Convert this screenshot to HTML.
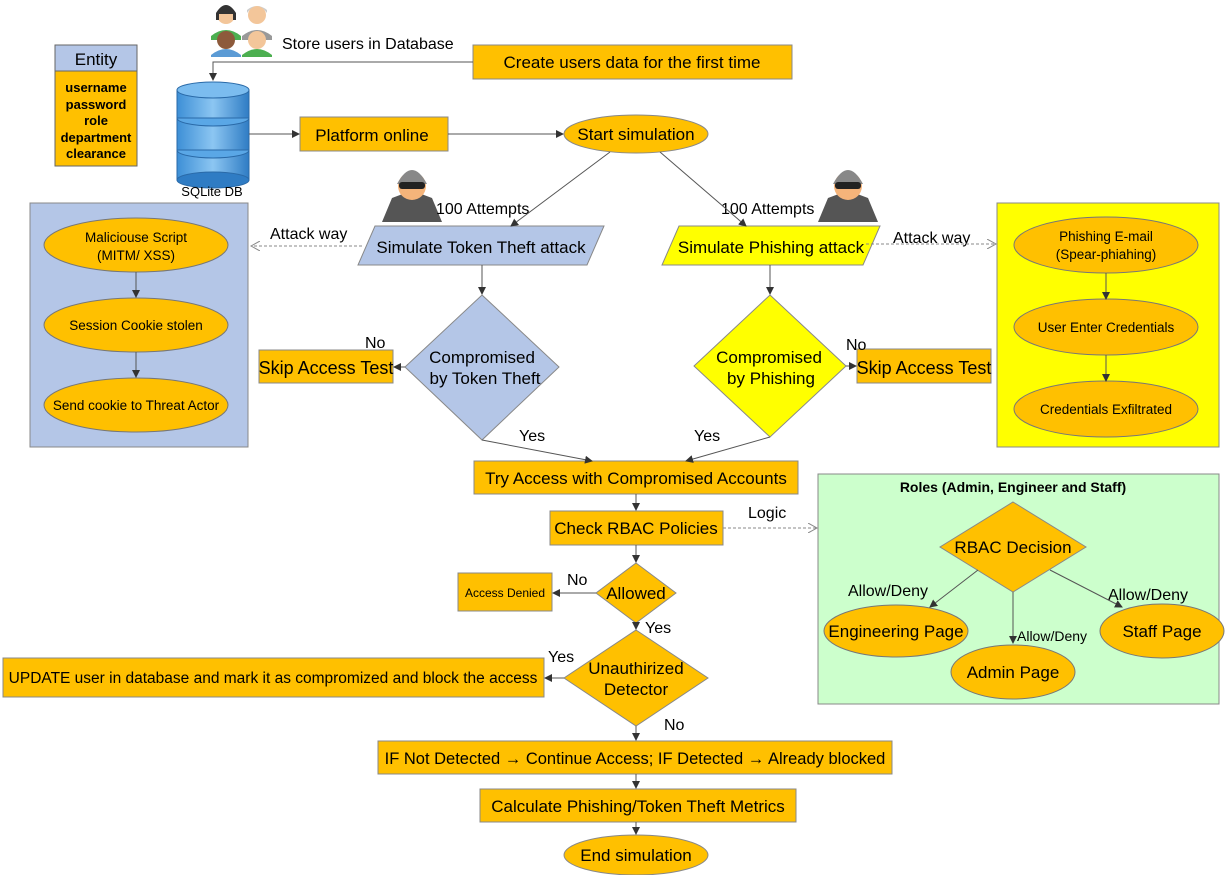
<!DOCTYPE html>
<html><head><meta charset="utf-8"><style>
html,body{margin:0;padding:0;background:#fff;}
svg{display:block;font-family:"Liberation Sans",sans-serif;}
</style></head><body>
<svg width="1225" height="875" viewBox="0 0 1225 875" xmlns="http://www.w3.org/2000/svg">
<defs>
<marker id="a" markerWidth="8" markerHeight="8" refX="7" refY="4" orient="auto" markerUnits="userSpaceOnUse"><path d="M0,0 L8,4 L0,8 z" fill="#333"/></marker>
<marker id="o" markerWidth="10" markerHeight="10" refX="9" refY="5" orient="auto" markerUnits="userSpaceOnUse"><path d="M0,0 L9,5 L0,10" fill="none" stroke="#888" stroke-width="1"/></marker>
<linearGradient id="db" x1="0" x2="1"><stop offset="0" stop-color="#3d8fd6"/><stop offset="0.5" stop-color="#8cc6f2"/><stop offset="1" stop-color="#2f7cc4"/></linearGradient>
</defs>

<!-- Entity -->
<rect x="55" y="45" width="82" height="26" fill="#b4c6e7" stroke="#666"/>
<rect x="55" y="71" width="82" height="95" fill="#ffc000" stroke="#666"/>
<text x="96" y="65" font-size="17" text-anchor="middle">Entity</text>
<g font-size="13" font-weight="bold" text-anchor="middle">
<text x="96" y="92">username</text><text x="96" y="109">password</text><text x="96" y="125">role</text><text x="96" y="142">department</text><text x="96" y="158">clearance</text>
</g>

<!-- DB -->
<g stroke="#2a6aa8" stroke-width="1">
<rect x="177" y="150" width="72" height="30" fill="url(#db)"/><ellipse cx="213" cy="180" rx="36" ry="8" fill="#2f7cc4"/><ellipse cx="213" cy="150" rx="36" ry="8" fill="#5aa7e6"/>
<rect x="177" y="118" width="72" height="32" fill="url(#db)"/><ellipse cx="213" cy="118" rx="36" ry="8" fill="#5aa7e6"/>
<rect x="177" y="90" width="72" height="28" fill="url(#db)"/><ellipse cx="213" cy="90" rx="36" ry="8" fill="#7bbcef"/>
</g>
<text x="212" y="196" font-size="13" text-anchor="middle">SQLite DB</text>

<!-- people -->
<g>
<circle cx="226" cy="15" r="9" fill="#f3c69a"/><path d="M216,13 q10,-16 20,0 v7 h-3 v-6 h-14 v6 h-3z" fill="#333"/><path d="M211,36 q15,-12 30,0 v4 h-30z" fill="#4caf50"/>
<circle cx="257" cy="15" r="9" fill="#f3c69a"/><path d="M247,13 q10,-14 20,0 v-3 q-10,-8 -20,0z" fill="#ccc"/><path d="M242,36 q15,-12 30,0 v4 h-30z" fill="#999"/>
<circle cx="226" cy="40" r="9" fill="#8d5a3b"/><path d="M211,57 v-2 q15,-12 30,0 v2z" fill="#5b9bd5"/>
<circle cx="257" cy="40" r="9" fill="#f3c69a"/><path d="M242,57 v-2 q15,-12 30,0 v2z" fill="#4caf50"/>
</g>
<text x="282" y="49" font-size="16">Store users in Database</text>

<!-- boxes top -->
<rect x="473" y="45" width="319" height="34" fill="#ffc000" stroke="#888"/>
<text x="632" y="68" font-size="17" text-anchor="middle">Create users data for the first time</text>
<rect x="300" y="117" width="148" height="34" fill="#ffc000" stroke="#888"/>
<text x="372" y="141" font-size="17" text-anchor="middle">Platform online</text>
<ellipse cx="636" cy="134" rx="72" ry="19" fill="#ffc000" stroke="#888"/>
<text x="636" y="140" font-size="17" text-anchor="middle">Start simulation</text>

<!-- hackers -->
<g>
<path d="M382,222 l10,-24 l16,-6 h8 l16,6 l10,24z" fill="#555"/><circle cx="412" cy="186" r="14" fill="#f5b47a"/><path d="M397,184 q15,-28 30,0z" fill="#888"/><rect x="399" y="182" width="26" height="7" rx="3" fill="#222"/>
</g>
<g transform="translate(436,0)">
<path d="M382,222 l10,-24 l16,-6 h8 l16,6 l10,24z" fill="#555"/><circle cx="412" cy="186" r="14" fill="#f5b47a"/><path d="M397,184 q15,-28 30,0z" fill="#888"/><rect x="399" y="182" width="26" height="7" rx="3" fill="#222"/>
</g>
<text x="436" y="214" font-size="16">100 Attempts</text>
<text x="721" y="214" font-size="16">100 Attempts</text>

<!-- parallelograms -->
<polygon points="375,226 604,226 587,265 358,265" fill="#b4c6e7" stroke="#888"/>
<text x="481" y="253" font-size="17" text-anchor="middle">Simulate Token Theft attack</text>
<polygon points="679,226 880,226 863,265 662,265" fill="#ffff00" stroke="#888"/>
<text x="771" y="253" font-size="17" text-anchor="middle">Simulate Phishing attack</text>
<text x="270" y="239" font-size="16">Attack way</text>
<text x="893" y="243" font-size="16">Attack way</text>

<!-- left blue group -->
<rect x="30" y="203" width="218" height="244" fill="#b4c6e7" stroke="#888"/>
<g fill="#ffc000" stroke="#777">
<ellipse cx="136" cy="245" rx="92" ry="27"/><ellipse cx="136" cy="325" rx="92" ry="27"/><ellipse cx="136" cy="405" rx="92" ry="27"/>
</g>
<g font-size="13.5" text-anchor="middle">
<text x="136" y="242">Maliciouse Script</text><text x="136" y="260">(MITM/ XSS)</text>
<text x="136" y="330">Session Cookie stolen</text>
<text x="136" y="410">Send cookie to Threat Actor</text>
</g>

<!-- right yellow group -->
<rect x="997" y="203" width="222" height="244" fill="#ffff00" stroke="#888"/>
<g fill="#ffc000" stroke="#777">
<ellipse cx="1106" cy="245" rx="92" ry="28"/><ellipse cx="1106" cy="327" rx="92" ry="28"/><ellipse cx="1106" cy="409" rx="92" ry="28"/>
</g>
<g font-size="13.5" text-anchor="middle">
<text x="1106" y="241">Phishing E-mail</text><text x="1106" y="259">(Spear-phiahing)</text>
<text x="1106" y="332">User Enter Credentials</text>
<text x="1106" y="414">Credentials Exfiltrated</text>
</g>

<!-- diamonds -->
<polygon points="482,295 559,367 482,440 405,367" fill="#b4c6e7" stroke="#888"/>
<text x="482" y="363" font-size="17" text-anchor="middle">Compromised</text>
<text x="485" y="384" font-size="17" text-anchor="middle">by Token Theft</text>
<polygon points="770,295 846,366 770,437 694,366" fill="#ffff00" stroke="#888"/>
<text x="769" y="363" font-size="17" text-anchor="middle">Compromised</text>
<text x="771" y="384" font-size="17" text-anchor="middle">by Phishing</text>

<rect x="259" y="350" width="134" height="33" fill="#ffc000" stroke="#888"/>
<text x="326" y="374" font-size="18" text-anchor="middle">Skip Access Test</text>
<rect x="857" y="349" width="134" height="34" fill="#ffc000" stroke="#888"/>
<text x="924" y="374" font-size="18" text-anchor="middle">Skip Access Test</text>
<text x="365" y="348" font-size="16">No</text>
<text x="846" y="350" font-size="16">No</text>
<text x="519" y="441" font-size="16">Yes</text>
<text x="694" y="441" font-size="16">Yes</text>

<!-- main flow -->
<rect x="474" y="461" width="324" height="33" fill="#ffc000" stroke="#888"/>
<text x="636" y="484" font-size="17" text-anchor="middle">Try Access with Compromised Accounts</text>
<rect x="550" y="511" width="173" height="34" fill="#ffc000" stroke="#888"/>
<text x="636" y="534" font-size="17" text-anchor="middle">Check RBAC Policies</text>
<text x="748" y="518" font-size="16">Logic</text>

<polygon points="636,563 676,593 636,623 596,593" fill="#ffc000" stroke="#888"/>
<text x="636" y="599" font-size="17" text-anchor="middle">Allowed</text>
<rect x="458" y="573" width="94" height="38" fill="#ffc000" stroke="#888"/>
<text x="505" y="597" font-size="12" text-anchor="middle">Access Denied</text>
<text x="567" y="585" font-size="16">No</text>
<text x="645" y="633" font-size="16">Yes</text>

<polygon points="636,630 708,678 636,726 564,678" fill="#ffc000" stroke="#888"/>
<text x="636" y="674" font-size="17" text-anchor="middle">Unauthirized</text>
<text x="636" y="695" font-size="17" text-anchor="middle">Detector</text>
<text x="548" y="662" font-size="16">Yes</text>
<text x="664" y="730" font-size="16">No</text>
<rect x="3" y="658" width="541" height="39" fill="#ffc000" stroke="#888"/>
<text x="273" y="683" font-size="15.5" text-anchor="middle">UPDATE user in database and mark it as compromized and block the access</text>

<rect x="378" y="741" width="514" height="33" fill="#ffc000" stroke="#888"/>
<text x="635" y="764" font-size="16.5" text-anchor="middle">IF Not Detected → Continue Access; IF Detected → Already blocked</text>
<rect x="480" y="789" width="316" height="33" fill="#ffc000" stroke="#888"/>
<text x="638" y="812" font-size="17" text-anchor="middle">Calculate Phishing/Token Theft Metrics</text>
<ellipse cx="636" cy="855" rx="72" ry="20" fill="#ffc000" stroke="#888"/>
<text x="636" y="861" font-size="17" text-anchor="middle">End simulation</text>

<!-- roles -->
<rect x="818" y="474" width="401" height="230" fill="#ccffcc" stroke="#888"/>
<text x="1013" y="492" font-size="14" font-weight="bold" text-anchor="middle">Roles  (Admin, Engineer and Staff)</text>
<polygon points="1013,502 1086,547 1013,592 940,547" fill="#ffc000" stroke="#888"/>
<text x="1013" y="553" font-size="17" text-anchor="middle">RBAC Decision</text>
<g fill="#ffc000" stroke="#777">
<ellipse cx="896" cy="631" rx="72" ry="26"/><ellipse cx="1013" cy="672" rx="62" ry="27"/><ellipse cx="1162" cy="631" rx="62" ry="27"/>
</g>
<text x="896" y="637" font-size="17" text-anchor="middle">Engineering Page</text>
<text x="1013" y="678" font-size="17" text-anchor="middle">Admin Page</text>
<text x="1162" y="637" font-size="17" text-anchor="middle">Staff Page</text>
<text x="848" y="596" font-size="16">Allow/Deny</text>
<text x="1108" y="600" font-size="16">Allow/Deny</text>
<text x="1017" y="641" font-size="14">Allow/Deny</text>

<!-- connectors (on top) -->
<g stroke="#555" stroke-width="1" fill="none">
<path d="M473,62 H213 V80" marker-end="url(#a)"/>
<path d="M249,134 H299" marker-end="url(#a)"/>
<path d="M448,134 H563" marker-end="url(#a)"/>
<path d="M610,152 L511,226" marker-end="url(#a)"/>
<path d="M660,152 L746,226" marker-end="url(#a)"/>
<path d="M482,265 V294" marker-end="url(#a)"/>
<path d="M770,265 V294" marker-end="url(#a)"/>
<path d="M405,367 H394" marker-end="url(#a)"/>
<path d="M846,366 H856" marker-end="url(#a)"/>
<path d="M482,440 L592,461" marker-end="url(#a)"/>
<path d="M770,437 L686,461" marker-end="url(#a)"/>
<path d="M136,272 V297" marker-end="url(#a)"/>
<path d="M136,352 V377" marker-end="url(#a)"/>
<path d="M1106,273 V299" marker-end="url(#a)"/>
<path d="M1106,355 V381" marker-end="url(#a)"/>
<path d="M636,494 V510" marker-end="url(#a)"/>
<path d="M636,545 V562" marker-end="url(#a)"/>
<path d="M596,593 H553" marker-end="url(#a)"/>
<path d="M636,623 V629" marker-end="url(#a)"/>
<path d="M564,678 H545" marker-end="url(#a)"/>
<path d="M636,726 V740" marker-end="url(#a)"/>
<path d="M636,774 V788" marker-end="url(#a)"/>
<path d="M636,822 V834" marker-end="url(#a)"/>
<path d="M978,570 L930,607" marker-end="url(#a)"/>
<path d="M1013,592 V643" marker-end="url(#a)"/>
<path d="M1050,570 L1122,607" marker-end="url(#a)"/>
</g>
<g stroke="#888" stroke-width="1" stroke-dasharray="3,2" fill="none">
<path d="M362,246 H251" marker-end="url(#o)"/>
<path d="M866,244 H996" marker-end="url(#o)"/>
<path d="M723,528 H817" marker-end="url(#o)"/>
</g>
</svg>
</body></html>
